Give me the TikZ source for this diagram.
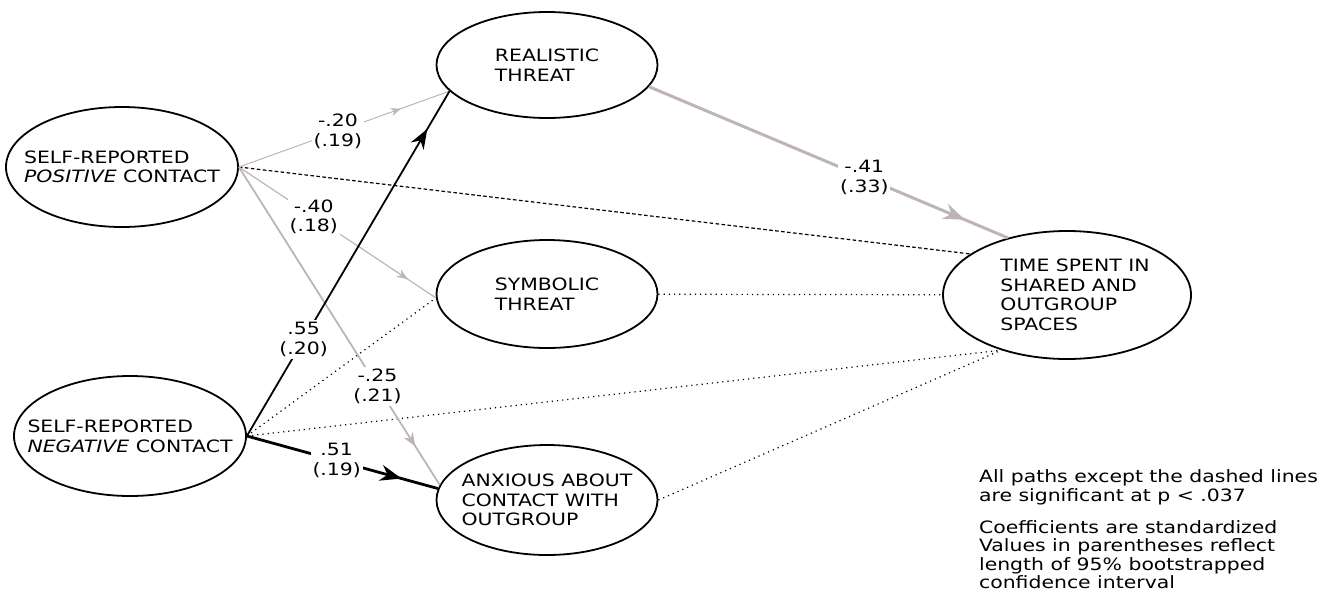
\documentclass[tikz,border=0pt]{standalone}
\usepackage{fontspec}
\setmainfont{DejaVu Sans}[FakeStretch=1.2]
\usetikzlibrary{arrows.meta,shapes.geometric,decorations.markings}
\definecolor{pathgray}{RGB}{190,180,182}

\begin{document}
\begin{tikzpicture}[
    x=0.5pt, y=-0.5pt,
    every node/.style={font=\fontsize{8.5}{9.8}\selectfont},
    latent/.style={ellipse, draw, line width=0.9pt, align=left, inner ysep=0pt, inner xsep=-12pt},
    coef/.style={fill=white, text=black, align=center, inner sep=1pt},
    tipat/.style 2 args={postaction={decorate}, decoration={markings, mark=at position #1 with {\arrow{Stealth[scale=#2]}}}},
    nonsig/.style={line width=0.6pt, dash pattern=on 0.6pt off 2pt}
]
\useasboundingbox (0,0) rectangle (1325,595);

\node[latent, minimum width=116pt, minimum height=60pt] (pos) at (122,167) {SELF-REPORTED\\\textit{POSITIVE} CONTACT};
\node[latent, minimum width=116pt, minimum height=60pt] (neg) at (130,436) {SELF-REPORTED\\\textit{NEGATIVE} CONTACT};
\node[latent, minimum width=110.5pt, minimum height=53pt] (real) at (547,65) {REALISTIC\\THREAT};
\node[latent, minimum width=110.5pt, minimum height=54pt] (sym) at (547,294) {SYMBOLIC\\THREAT};
\node[latent, minimum width=110.5pt, minimum height=55pt] (anx) at (547,500) {ANXIOUS ABOUT\\CONTACT WITH\\OUTGROUP};
\node[latent, minimum width=124pt, minimum height=64pt] (time) at (1067,295) {\hspace*{8pt}TIME SPENT IN\\\hspace*{8pt}SHARED AND\\\hspace*{8pt}OUTGROUP\\\hspace*{8pt}SPACES};

\draw[nonsig, dash pattern=on 1.8pt off 1.2pt] (pos.east) -- (time.157);
\draw[nonsig] (sym) -- (time);
\draw[nonsig] (neg.east) -- (sym.182);
\draw[nonsig] (neg.east) -- (time.220);
\draw[nonsig] (anx.east) -- (time.220);

\draw[pathgray, line width=0.5pt, tipat={0.77}{1}] (pos.east) -- node[coef, pos=0.47] {-.20\\(.19)} (real.195);
\draw[pathgray, line width=0.6pt, tipat={0.86}{1}] (pos.east) -- node[coef, pos=0.38] {-.40\\(.18)} (sym.182);
\draw[pathgray, line width=0.9pt, tipat={0.88}{1}] (pos.east) -- node[coef, pos=0.69] {-.25\\(.21)} (anx.172);
\draw[pathgray, line width=1.5pt, tipat={0.88}{1.1}] (real.348) -- node[coef, pos=0.6] {-.41\\(.33)} (time.136);
\draw[line width=0.9pt, tipat={0.89}{1.4}] (neg.east) -- node[coef, pos=0.28] {.55\\(.20)} (real.195);
\draw[line width=1.4pt, tipat={0.81}{1.15}] (neg.east) -- node[coef, pos=0.47] {.51\\(.19)} (anx.174);

\node[anchor=north west, align=left, font=\fontsize{8.5}{9.3}\selectfont] (note) at (972,463)
    {All paths except the dashed lines\\are significant at p < .037\\[6.5pt]Coefficients are standardized\\Values in parentheses reflect\\length of 95\% bootstrapped\\confidence interval};
\end{tikzpicture}
\end{document}
